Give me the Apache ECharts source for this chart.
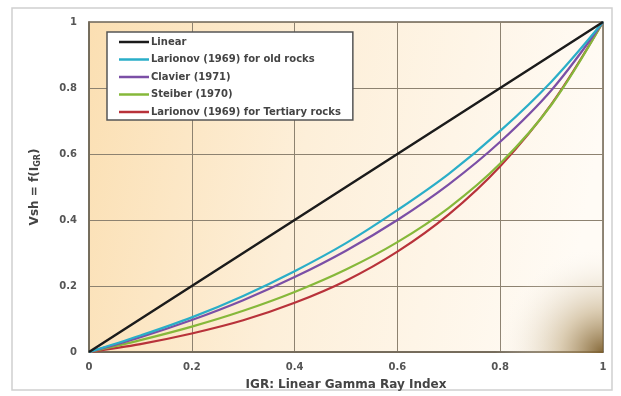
<!DOCTYPE html>
<html>
<head>
<meta charset="utf-8">
<script src="https://cdn.jsdelivr.net/npm/echarts@6/dist/echarts.min.js"></script>
<style>
	html, body { margin: 0; padding: 0; background: #fff; }
	#chart { width: 621px; height: 396px; }
</style>
</head>
<body>
<div id="chart"></div>
<script>
	'use strict';
	// IGR values where the curves were read
	var igr = [0, 0.1, 0.2, 0.3, 0.4, 0.5, 0.6, 0.7, 0.8, 0.9, 1];
	var linear = [0, 0.1, 0.2, 0.3, 0.4, 0.5, 0.6, 0.7, 0.8, 0.9, 1];
	var larionovOld = [0, 0.05, 0.105, 0.17, 0.245, 0.33, 0.43, 0.54, 0.67, 0.82, 1];
	var clavier = [0, 0.045, 0.097, 0.157, 0.227, 0.307, 0.40, 0.508, 0.637, 0.794, 1];
	var steiber = [0, 0.036, 0.077, 0.125, 0.182, 0.25, 0.333, 0.437, 0.571, 0.75, 1];
	var larionovTert = [0, 0.024, 0.056, 0.096, 0.149, 0.216, 0.304, 0.417, 0.563, 0.752, 1];
	var tickVals = [0, 0.2, 0.4, 0.6, 0.8, 1];

	var names = ['Linear', 'Larionov (1969) for old rocks', 'Clavier (1971)', 'Steiber (1970)', 'Larionov (1969) for Tertiary rocks'];
	var colors = ['#1b1b1b', '#2aaec8', '#7b4fa6', '#86b83a', '#b8323a'];
	var values = [linear, larionovOld, clavier, steiber, larionovTert];

	function pairs(ys) {
		return igr.map(function (x, i) { return [x, ys[i]]; });
	}

	var series = values.map(function (ys, k) {
		return {
			name: names[k],
			type: 'line',
			smooth: k > 0 ? 0.35 : false,
			symbol: 'none',
			lineStyle: { color: colors[k], width: k === 0 ? 2.5 : 2.2 },
			itemStyle: { color: colors[k] },
			z: 10 - k,
			data: pairs(ys)
		};
	});

	var labelFont = { color: '#555', fontSize: 10, fontWeight: 'bold', fontFamily: 'DejaVu Sans' };

	var chart = echarts.init(document.getElementById('chart'));
	chart.setOption({
		animation: false,
		backgroundColor: '#fff',
		graphic: [
			{
				type: 'rect', silent: true, z: -10,
				shape: { x: 12, y: 8, width: 600, height: 382 },
				style: { fill: 'none', stroke: '#d0d0d0', lineWidth: 1.5 }
			},
			{
				type: 'rect', silent: true, z: 1,
				shape: { x: 490, y: 245, width: 113, height: 108 },
				style: {
					fill: new echarts.graphic.RadialGradient(1, 1, 1, [
						{ offset: 0, color: 'rgba(125,95,45,0.95)' },
						{ offset: 0.4, color: 'rgba(185,160,115,0.5)' },
						{ offset: 1, color: 'rgba(255,255,255,0)' }
					])
				}
			}
		],
		grid: {
			left: 89, right: 18, top: 22, bottom: 43,
			show: true,
			borderColor: '#6e6454',
			borderWidth: 1.5,
			backgroundColor: new echarts.graphic.LinearGradient(0, 0, 1, 0.3, [
				{ offset: 0, color: '#fbdfb2' },
				{ offset: 0.45, color: '#fdefd9' },
				{ offset: 1, color: '#fffbf5' }
			])
		},
		legend: {
			orient: 'vertical',
			left: 107, top: 32,
			data: names,
			icon: 'rect',
			itemWidth: 30, itemHeight: 2.5,
			itemGap: 7.5,
			padding: [5, 12, 3, 12],
			backgroundColor: '#fff',
			borderColor: '#555',
			borderWidth: 1.5,
			textStyle: { color: '#444', fontSize: 10, fontWeight: 'bold', fontFamily: 'DejaVu Sans', padding: [0, 0, 0, -3] }
		},
		xAxis: {
			type: 'value', min: 0, max: 1, interval: 0.2,
			name: 'IGR: Linear Gamma Ray Index',
			nameLocation: 'middle', nameGap: 27,
			nameTextStyle: { color: '#444', fontSize: 12, fontWeight: 'bold', fontFamily: 'DejaVu Sans' },
			axisLine: { lineStyle: { color: '#6e6454', width: 1.5 } },
			axisTick: { show: false },
			axisLabel: Object.assign({ margin: 10, formatter: function (v) { return tickVals.indexOf(+v.toFixed(1)) >= 0 ? String(+v.toFixed(1)) : ''; } }, labelFont),
			splitLine: { lineStyle: { color: '#8d8270', width: 1 } }
		},
		yAxis: {
			type: 'value', min: 0, max: 1, interval: 0.2,
			name: 'Vsh = f(I{sub|GR})',
			nameLocation: 'middle', nameGap: 47, nameRotate: 90,
			nameTextStyle: {
				color: '#444', fontSize: 12, fontWeight: 'bold', fontFamily: 'DejaVu Sans',
				rich: { sub: { fontSize: 8, fontWeight: 'bold', color: '#444', verticalAlign: 'bottom', padding: [6, 0, 0, 0] } }
			},
			axisLine: { show: true, lineStyle: { color: '#6e6454', width: 1.5 } },
			axisTick: { show: false },
			axisLabel: Object.assign({ margin: 12, formatter: function (v) { return String(+v.toFixed(1)); } }, labelFont),
			splitLine: { lineStyle: { color: '#8d8270', width: 1 } }
		},
		series: series
	});
</script>
</body>
</html>
